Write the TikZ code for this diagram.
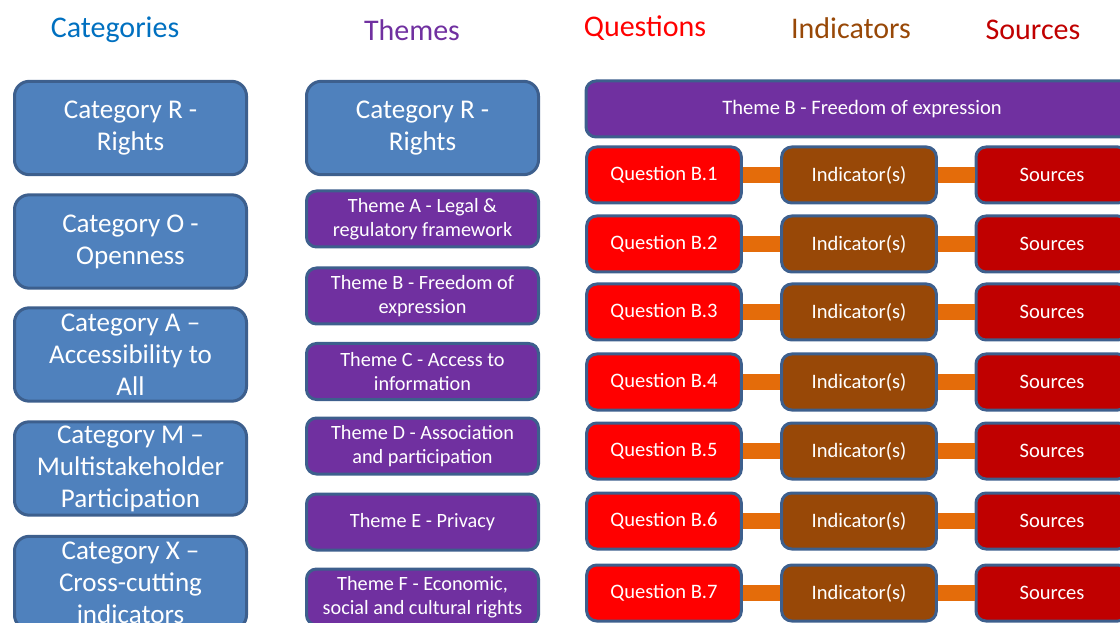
\documentclass[tikz,border=0pt]{standalone}
\usepackage{fontspec}
\setmainfont{Carlito}
\definecolor{edge}{HTML}{3D5F8D}
\definecolor{catblue}{HTML}{4F81BD}
\definecolor{themepurple}{HTML}{7030A0}
\definecolor{qred}{HTML}{FF0000}
\definecolor{indbrown}{HTML}{984807}
\definecolor{srcred}{HTML}{C00000}
\definecolor{linkorange}{HTML}{E46C0A}
\definecolor{headblue}{HTML}{0070C0}

\begin{document}
\begin{tikzpicture}[x=0.75pt,y=-0.75pt,
	heading/.style={font=\fontsize{22.5}{26}\selectfont, inner sep=0pt},
	box/.style={draw=edge, line width=2.25pt, rounded corners=7.5pt, text=white, align=center, inner sep=0pt},
	catbox/.style={box, fill=catblue, rounded corners=11pt, minimum width=174pt, minimum height=70pt, font=\fontsize{20.3}{24}\selectfont},
	themebox/.style={box, fill=themepurple, minimum width=174pt, minimum height=42pt, font=\fontsize{15.2}{18}\selectfont},
	qbox/.style={box, fill=qred, minimum width=116pt, minimum height=42pt, font=\fontsize{15.4}{18}\selectfont},
	indbox/.style={qbox, fill=indbrown},
	srcbox/.style={qbox, fill=srcred, minimum width=114pt},
	link/.style={linkorange, line width=12pt}]
				\useasboundingbox (0,0) rectangle (1120,623);
				\clip (0,0) rectangle (1120,623);
				
				% column headings
				\node[heading, text=headblue] (hcat) at (115,30) {Categories};
				\node[heading, text=themepurple] (htheme) at (412,30) {Themes};
				\node[heading, text=qred] (hquest) at (645,28) {Questions};
				\node[heading, text=indbrown] (hind) at (851,28) {Indicators};
				\node[heading, text=srcred] (hsrc) at (1033,30) {Sources};
				
				% categories
				\node[catbox] (catR) at (130.5,128) {Category R -\\Rights};
				\node[catbox] (catO) at (130.5,241.5) {Category O -\\Openness};
				\node[catbox] (catA) at (130.5,354.5) {Category A --\\Accessibility to\\All};
				\node[catbox] (catM) at (130.5,468.5) {Category M --\\Multistakeholder\\Participation};
				\node[catbox] (catX) at (130.5,583) {Category X --\\Cross-cutting\\indicators};
				
				% themes of category R
				\node[catbox] (themeR) at (422.5,128) {Category R -\\Rights};
				\node[themebox] (themeA) at (422.5,219) {Theme A - Legal \&\\regulatory framework};
				\node[themebox] (themeB) at (422.5,296) {Theme B - Freedom of\\expression};
				\node[themebox] (themeC) at (422.5,371.5) {Theme C - Access to\\information};
				\node[themebox] (themeD) at (422.5,446) {Theme D - Association\\and participation};
				\node[themebox] (themeE) at (422.5,522) {Theme E - Privacy};
				\node[themebox] (themeF) at (422.5,597) {Theme F - Economic,\\social and cultural rights};
				
				% theme B in detail
				\node[box, fill=themepurple, minimum width=414pt, minimum height=42pt, font=\fontsize{15.4}{18}\selectfont] (bhead) at (862,109) {Theme B - Freedom of expression};
				
				\foreach \n/\y in {1/175, 2/244, 3/312, 4/382, 5/451, 6/521, 7/593}
				{
					\node[qbox] (q\n) at (664,\y) {Question B.\n};
					\node[indbox] (i\n) at (859,\y) {Indicator(s)};
					\node[srcbox] (s\n) at (1052,\y) {Sources};
					\draw[link] (q\n.east) -- (i\n.west);
					\draw[link] (i\n.east) -- (s\n.west);
				}
			\end{tikzpicture}
\end{document}
